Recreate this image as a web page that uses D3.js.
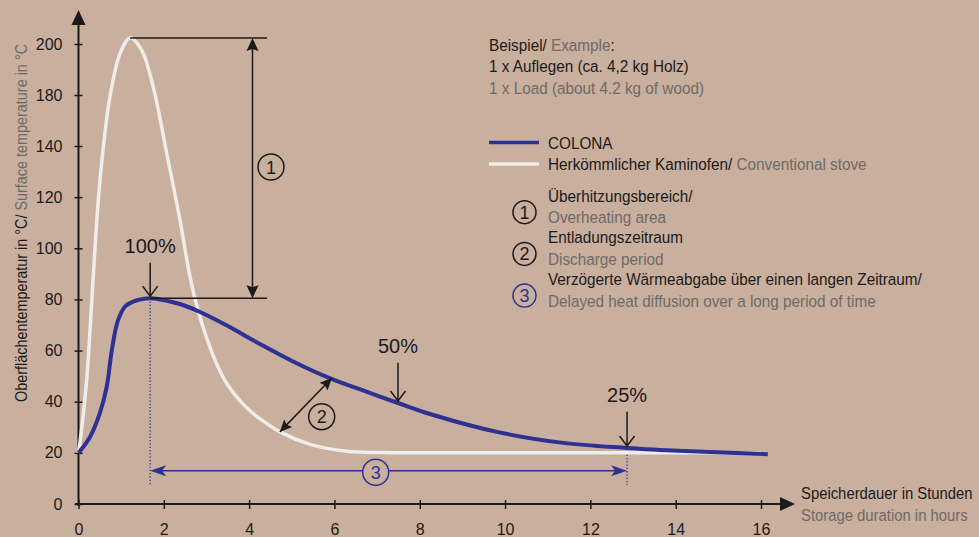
<!DOCTYPE html>
<html><head><meta charset="utf-8">
<script src="https://cdn.jsdelivr.net/npm/d3@7"></script>
<style>
html,body{margin:0;padding:0;background:#c9af9e;}
svg{display:block;}
</style></head>
<body>
<script>
// ---------- DATA ----------
const xTicks = [0, 2, 4, 6, 8, 10, 12, 14, 16];
const yTicks = [0, 20, 40, 60, 80, 100, 120, 140, 180, 200];

// Conventional stove (hours, °C)
const stoveHours = [0, 0.035, 0.19, 0.27, 0.34, 0.5, 0.74, 0.98, 1.21, 1.48, 1.75, 2.07, 2.38, 2.61, 2.8, 2.99, 3.2, 3.48, 3.95, 4.3, 4.72, 5.43, 6.29, 7.07, 8, 10, 12, 14, 16];
const stoveTemp  = [20, 24, 48, 68, 87.5, 126, 179, 196.5, 202.4, 197.6, 183.3, 137, 111, 89.2, 75.9, 65.7, 56.3, 47, 37.5, 32.8, 28.2, 23.3, 20.6, 20.1, 20, 20, 20, 20, 20];

// COLONA (hours, °C)
const colonaHours = [0, 0.27, 0.5, 0.66, 0.78, 0.92, 1.1, 1.4, 1.68, 1.91, 2.38, 2.85, 3.48, 4.25, 5.03, 5.9, 6.67, 7.49, 8.24, 9.81, 11.36, 12.86, 13.63, 16.16];
const colonaTemp  = [20, 26.2, 35.5, 45.7, 60, 71.5, 77.4, 79.8, 80.5, 80.0, 78.2, 75.1, 69.8, 62.6, 55.7, 49.1, 44.4, 39.5, 35.2, 28.2, 23.9, 21.9, 21.1, 19.5];

// Marked points (hours, °C)
const peakHour = 1.68, halfHour = 7.49, quarterHour = 12.86;
const peakTemp = 80.5, halfTemp = 39.5, quarterTemp = 21.9;
const pctLabels = ["100%", "50%", "25%"];

const legendSeries = ["COLONA", "Herkömmlicher Kaminofen/ "];
const legendSeriesEn = ["", "Conventional stove"];
const noteDe = ["Überhitzungsbereich/", "Entladungszeitraum", "Verzögerte Wärmeabgabe über einen langen Zeitraum/"];
const noteEn = ["Overheating area", "Discharge period", "Delayed heat diffusion over a long period of time"];

// ---------- STYLE ----------
const BG = "#c9af9e", BLUE = "#2e3192", WHITE = "#efedea", DARK = "#1c1a19", GREY = "#6e6a67";
const FONT = "'Liberation Sans', Arial, sans-serif";
const SX = 0.9; // condensed look

const W = 979, H = 537;
const svg = d3.select("body").append("svg").attr("width", W).attr("height", H);
svg.append("rect").attr("width", W).attr("height", H).attr("fill", BG);

const x = d3.scaleLinear().domain([0, 16]).range([78.5, 761]);
const y = d3.scaleLinear().domain([0, 140, 180, 200]).range([504, 146, 95, 44]);

function head(g, tx, ty, ang, len, hw, color, notch) {
  const c = Math.cos(ang), s = Math.sin(ang);
  const bx = tx - c * len, by = ty - s * len;
  const nx = -s, ny = c;
  const nb = notch || 0;
  const p = [[tx, ty], [bx + nx * hw, by + ny * hw], [tx - c * (len - nb), ty - s * (len - nb)], [bx - nx * hw, by - ny * hw]];
  g.append("path").attr("d", "M" + p.map(q => q.join(",")).join("L") + "Z").attr("fill", color);
}
function openHead(g, tx, ty, ang, len, hw, color) {
  const c = Math.cos(ang), s = Math.sin(ang);
  const bx = tx - c * len, by = ty - s * len;
  const nx = -s, ny = c;
  g.append("path").attr("d", `M${bx + nx * hw},${by + ny * hw}L${tx},${ty}L${bx - nx * hw},${by - ny * hw}`)
    .attr("fill", "none").attr("stroke", color).attr("stroke-width", 1.5);
}
function circ(g, cx, cy, r, label, color) {
  g.append("circle").attr("cx", cx).attr("cy", cy).attr("r", r).attr("fill", BG).attr("stroke", color).attr("stroke-width", 1.5);
  g.append("text").attr("x", cx).attr("y", cy + 6.5).attr("text-anchor", "middle").attr("font-family", FONT)
    .attr("font-size", 18).attr("fill", color).text(label);
}
function txt(g, tx, ty, parts, size, extra) {
  const t = g.append("text").attr("transform", `translate(${tx},${ty}) ${extra || ""} scale(${SX},1)`)
    .attr("font-family", FONT).attr("font-size", size);
  parts.forEach(p => t.append("tspan").attr("fill", p[1]).text(p[0]));
  return t;
}

// ---------- AXES ----------
const ax = svg.append("g");
const yAxis = d3.axisLeft(y).tickValues(yTicks).tickSizeInner(4).tickSizeOuter(0).tickPadding(12);
const gy = ax.append("g").attr("transform", `translate(${x(0)},0)`).call(yAxis);
gy.select(".domain").remove();
gy.selectAll(".tick line").attr("x1", -4).attr("x2", 4).attr("stroke", DARK).attr("stroke-width", 1.5);
gy.selectAll(".tick text").attr("font-family", FONT).attr("font-size", 16).attr("fill", DARK);

const xAxis = d3.axisBottom(x).tickValues(xTicks).tickSizeInner(4).tickSizeOuter(0).tickPadding(16);
const gx = ax.append("g").attr("transform", `translate(0,${y(0)})`).call(xAxis);
gx.select(".domain").remove();
gx.selectAll(".tick line").attr("y1", -4).attr("y2", 5).attr("stroke", DARK).attr("stroke-width", 1.5);
gx.selectAll(".tick text").attr("font-family", FONT).attr("font-size", 16).attr("fill", DARK);

ax.append("line").attr("x1", 75).attr("x2", 782).attr("y1", y(0)).attr("y2", y(0)).attr("stroke", DARK).attr("stroke-width", 2);
head(ax, 795, y(0), 0, 15, 7, DARK, 0);
ax.append("line").attr("x1", x(0)).attr("x2", x(0)).attr("y1", y(0) + 2).attr("y2", 22).attr("stroke", DARK).attr("stroke-width", 2);
head(ax, x(0), 10, -Math.PI / 2, 15, 7, DARK, 0);

// axis titles
txt(ax, 27, 402, [["Oberflächentemperatur in °C/ ", DARK], ["Surface temperature in °C", GREY]], 16, "rotate(-90)");
txt(ax, 801, 499, [["Speicherdauer in Stunden", DARK]], 16.5);
txt(ax, 801, 521, [["Storage duration in hours", GREY]], 16.5);

// ---------- LINES ----------
const line = d3.line().x(d => x(d[0])).y(d => y(d[1])).curve(d3.curveCatmullRom.alpha(0.5));
const stove = stoveHours.map((h, i) => [h, stoveTemp[i]]);
const colona = colonaHours.map((h, i) => [h, colonaTemp[i]]);

const ann = svg.append("g");
ann.append("line").attr("x1", x(peakHour)).attr("x2", x(peakHour)).attr("y1", y(peakTemp)).attr("y2", y(7.4))
  .attr("stroke", BLUE).attr("stroke-width", 1.3).attr("stroke-dasharray", "1.3,2");
ann.append("line").attr("x1", x(quarterHour)).attr("x2", x(quarterHour)).attr("y1", y(quarterTemp)).attr("y2", y(7.4))
  .attr("stroke", BLUE).attr("stroke-width", 1.3).attr("stroke-dasharray", "1.3,2");

svg.append("path").datum(stove).attr("d", line).attr("fill", "none").attr("stroke", WHITE).attr("stroke-width", 3.5);
svg.append("path").datum(colona).attr("d", line).attr("fill", "none").attr("stroke", BLUE).attr("stroke-width", 4);

const tg = svg.append("g");
// ① overheating
const peakY = y(202.4), baseY = y(peakTemp);
tg.append("line").attr("x1", x(1.21)).attr("x2", 267).attr("y1", peakY).attr("y2", peakY).attr("stroke", DARK).attr("stroke-width", 1.5);
tg.append("line").attr("x1", x(peakHour)).attr("x2", 267).attr("y1", baseY).attr("y2", baseY).attr("stroke", DARK).attr("stroke-width", 1.5);
tg.append("line").attr("x1", 252.5).attr("x2", 252.5).attr("y1", peakY + 8).attr("y2", baseY - 8).attr("stroke", DARK).attr("stroke-width", 1.5);
head(tg, 252.5, peakY, -Math.PI / 2, 13, 6, DARK, 2);
head(tg, 252.5, baseY, Math.PI / 2, 13, 6, DARK, 2);
circ(tg, 271, 167, 13, "1", DARK);

// ② discharge
const p1 = [x(4.72), y(28.2)], p2 = [x(5.94), y(49.3)];
const a2 = Math.atan2(p2[1] - p1[1], p2[0] - p1[0]);
tg.append("line").attr("x1", p1[0]).attr("y1", p1[1]).attr("x2", p2[0]).attr("y2", p2[1]).attr("stroke", DARK).attr("stroke-width", 1.5);
head(tg, p2[0], p2[1], a2, 12, 5.5, DARK, 2);
head(tg, p1[0], p1[1], a2 + Math.PI, 12, 5.5, DARK, 2);
circ(tg, 321.7, 416.7, 13, "2", DARK);

// ③ delayed heat
const y3 = y(13);
tg.append("line").attr("x1", x(peakHour) + 10).attr("x2", x(quarterHour) - 10).attr("y1", y3).attr("y2", y3).attr("stroke", BLUE).attr("stroke-width", 1.5);
head(tg, x(peakHour), y3, Math.PI, 16, 5.5, BLUE, 4);
head(tg, x(quarterHour), y3, 0, 16, 5.5, BLUE, 4);
circ(tg, 375.7, y3 + 1.5, 13, "3", BLUE);

// percentage markers
const pcts = [[peakHour, peakTemp], [halfHour, halfTemp], [quarterHour, quarterTemp]];
const pctTop = [262.7, 362.7, 411.7];
pcts.forEach((p, i) => {
  const px = x(p[0]), py = y(p[1]) - 2;
  tg.append("line").attr("x1", px).attr("x2", px).attr("y1", pctTop[i]).attr("y2", py).attr("stroke", DARK).attr("stroke-width", 1.5);
  openHead(tg, px, py, Math.PI / 2, 10, 7.5, DARK);
  tg.append("text").attr("x", px).attr("y", pctTop[i] - 10).attr("text-anchor", "middle").attr("font-family", FONT)
    .attr("font-size", 20).attr("fill", DARK).text(pctLabels[i]);
});

// ---------- LEGEND / NOTES ----------
const lg = svg.append("g");
txt(lg, 489, 51, [["Beispiel/ ", DARK], ["Example", GREY], [":", DARK]], 17);
txt(lg, 489, 72, [["1 x Auflegen (ca. 4,2 kg Holz)", DARK]], 17);
txt(lg, 489, 93.5, [["1 x Load (about 4.2 kg of wood)", GREY]], 17);

const lcol = [BLUE, WHITE];
legendSeries.forEach((s, i) => {
  const ly = 142.5 + i * 21.5;
  lg.append("line").attr("x1", 489).attr("x2", 539).attr("y1", ly).attr("y2", ly).attr("stroke", lcol[i]).attr("stroke-width", 3.5);
  txt(lg, 548, ly + 6, [[s, DARK], [legendSeriesEn[i], GREY]], 17);
});

const ncol = [DARK, DARK, BLUE];
noteDe.forEach((s, i) => {
  const by = 201.7 + i * 41.7;
  txt(lg, 548, by, [[s, DARK]], 17);
  txt(lg, 548, by + 21.5, [[noteEn[i], GREY]], 17);
  circ(lg, 524.5, by + 10.5, 11.5, String(i + 1), ncol[i]);
});
</script>
</body></html>
